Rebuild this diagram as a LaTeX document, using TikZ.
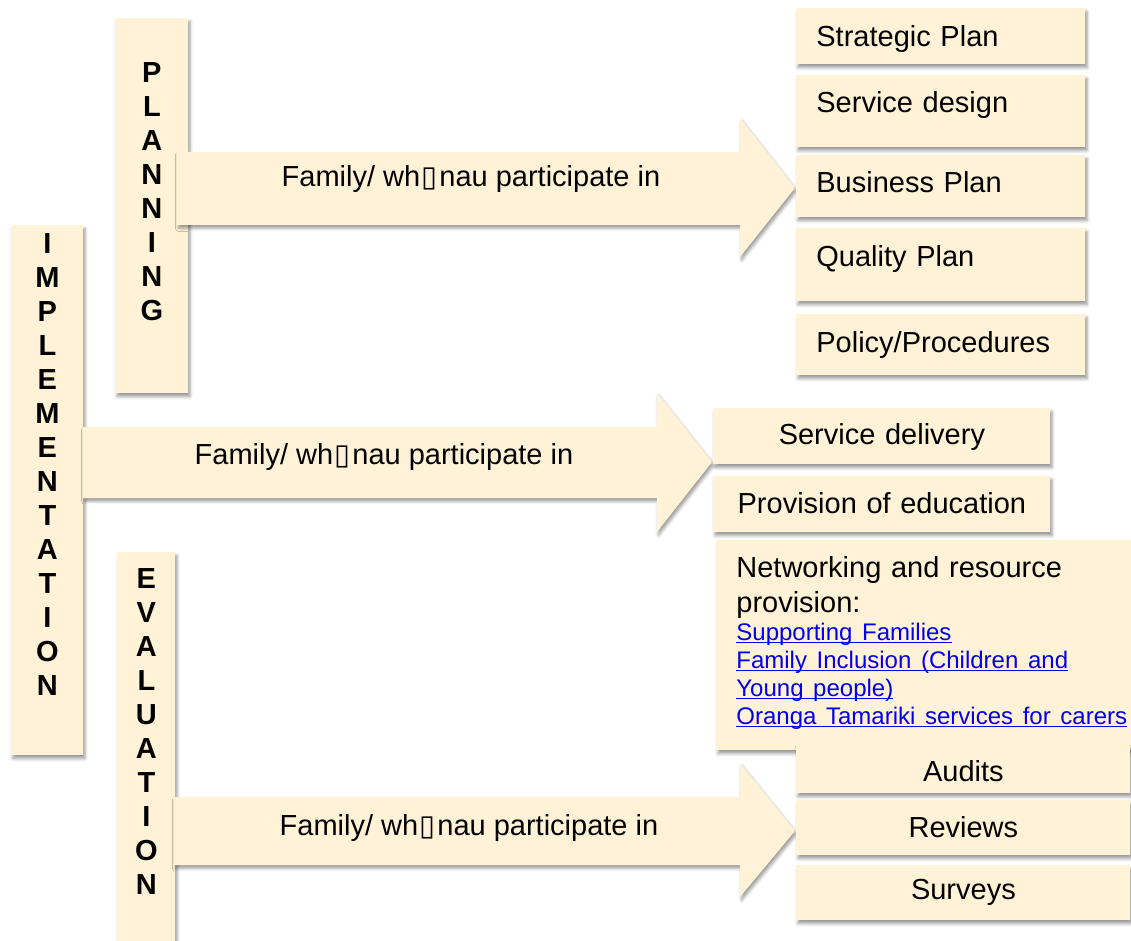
\documentclass[tikz,border=0pt]{standalone}
\usepackage{fontspec}
\setmainfont{Liberation Sans}
\newfontfamily\glyphfont{DejaVu Sans}
\usetikzlibrary{positioning,shadows.blur}
\setlength{\parindent}{0pt}
\definecolor{cream}{RGB}{255,242,214}
\definecolor{linkblue}{RGB}{0,0,238}
\newcommand{\whanau}{wh\kern0.8pt{\glyphfont ▯}\kern0.8pt nau}
\newcommand{\linkfont}{\fontsize{12}{14}\selectfont\color{linkblue}}
\newcommand{\weblink}[1]{\leavevmode\setbox0\hbox{#1}\rlap{\rule[-1.2pt]{\wd0}{0.6pt}}\box0}
\tikzset{
  panel/.style = {
    fill=cream,
    blur shadow={shadow xshift=0.8pt, shadow yshift=-1.6pt,
      shadow blur radius=1.6pt, shadow opacity=40}
  },
  stagebox/.style = {panel, anchor=north west, inner sep=0pt},
  stagetext/.style = {inner sep=0pt, align=center,
    font=\fontsize{14.5}{17}\selectfont\bfseries},
  item/.style = {panel, anchor=north west, inner ysep=0pt, inner xsep=10pt,
    align=left, font=\fontsize{14.5}{17.5}\selectfont},
  arrowtext/.style = {anchor=base, inner sep=0pt,
    font=\fontsize{14.5}{17}\selectfont}
}

\begin{document}
\begin{tikzpicture}[x=0.5pt,y=-0.5pt]
  \useasboundingbox (0,0) rectangle (1131,941);
  %
  \node[stagebox, minimum width=36.5pt, minimum height=187.5pt] (planning) at (115,18) {};
  \node[stagetext, below=22pt of planning.north] (planninglbl) {P\\L\\A\\N\\N\\I\\N\\G};
  \node[stagebox, minimum width=36pt, minimum height=265pt] (implementation) at (11,225) {};
  \node[stagetext, below=4pt of implementation.north] (implementationlbl)
    {I\\M\\P\\L\\E\\M\\E\\N\\T\\A\\T\\I\\O\\N};
  \node[stagebox, minimum width=29pt, minimum height=196.5pt] (evaluation) at (117,552) {};
  \node[stagetext, below=8pt of evaluation.north] (evaluationlbl) {E\\V\\A\\L\\U\\A\\T\\I\\O\\N};
  %
  \path[panel] (177,152) -- (740,152) -- (740,118) -- (795,188)
    -- (740,257) -- (740,225) -- (177,225) -- cycle;
  \node[arrowtext] (plantext) at (471,187) {Family/ \whanau\ participate in};
  %
  \path[panel] (83,427) -- (657,427) -- (657,393) -- (712,462)
    -- (657,532) -- (657,498) -- (83,498) -- cycle;
  \node[arrowtext] (impltext) at (384,465) {Family/ \whanau\ participate in};
  %
  \path[panel] (174,797) -- (740,797) -- (740,763) -- (795,831)
    -- (740,897) -- (740,865) -- (174,865) -- cycle;
  \node[arrowtext] (evaltext) at (469,835) {Family/ \whanau\ participate in};
  %
  \node[item, text width=124.5pt, text height=19pt, text depth=9pt]
    (strategic) at (796,8) {Strategic Plan};
  \node[item, text width=124.5pt, text height=18.5pt, text depth=17.5pt]
    (design) at (796,75) {Service design};
  \node[item, text width=124.5pt, text height=18.5pt, text depth=12.5pt]
    (business) at (796,155) {Business Plan};
  \node[item, text width=124.5pt, text height=19pt, text depth=17.5pt]
    (quality) at (796,228) {Quality Plan};
  \node[item, text width=124.5pt, text height=19pt, text depth=11.5pt]
    (policy) at (796,314) {Policy/Procedures};
  %
  \node[item, align=center, text width=148.5pt, text height=18pt, text depth=10pt]
    (delivery) at (713,408) {Service delivery};
  \node[item, align=center, text width=148.5pt, text height=18.5pt, text depth=9.5pt]
    (education) at (713,476) {Provision of education};
  \node[item, text width=200pt, text height=18.5pt, text depth=86.5pt]
    (network) at (716,540) {Networking and resource\\provision:\par
      \linkfont\weblink{Supporting Families}\\
      \weblink{Family Inclusion (Children and}\\
      \weblink{Young people)}\\
      \weblink{Oranga Tamariki services for carers}\par};
  %
  \node[item, align=center, text width=147pt, text height=18pt, text depth=6pt]
    (audits) at (796,745) {Audits};
  \node[item, align=center, text width=147pt, text height=18.5pt, text depth=9pt]
    (reviews) at (796,800) {Reviews};
  \node[item, align=center, text width=147pt, text height=17pt, text depth=10.5pt]
    (surveys) at (796,865) {Surveys};
\end{tikzpicture}
\end{document}
